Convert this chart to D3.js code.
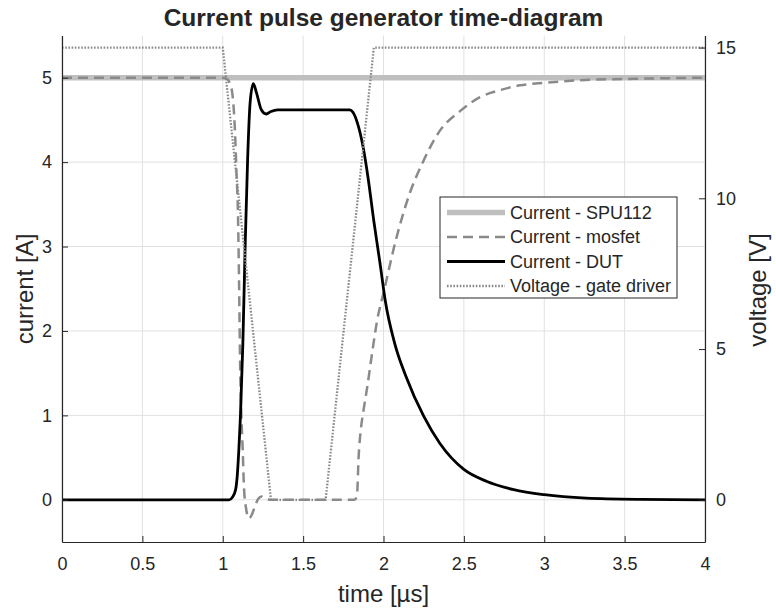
<!DOCTYPE html>
<html>
<head>
<meta charset="utf-8">
<script src="https://cdn.jsdelivr.net/npm/d3@7"></script>
<style>
body { margin: 0; background: #fff; }
svg text { font-family: "Liberation Sans", Arial, sans-serif; fill: #262626; }
</style>
</head>
<body>
<div id="chart"></div>
<script>
// data (time in µs)
var spuT = [0, 4];
var spuI = [5, 5];

var mosT = [0, 1.00, 1.03, 1.045, 1.055, 1.066, 1.076, 1.085, 1.095, 1.102, 1.108, 1.115, 1.124, 1.132, 1.145, 1.163, 1.18, 1.20, 1.22, 1.242, 1.265, 1.30,
            1.82, 1.835, 1.845, 1.86, 1.875, 1.90, 1.93, 1.96, 2.00, 2.08, 2.165, 2.24, 2.35, 2.48, 2.60, 2.72, 2.85, 3.01, 3.22, 3.64, 4.00];
var mosI = [5, 5, 4.98, 4.93, 4.87, 4.69, 4.37, 3.9, 3.35, 2.5, 1.6, 1.05, 0.6, 0.15, -0.1, -0.22, -0.18, -0.08, 0.01, 0.04, 0.01, 0,
            0, 0.05, 0.5, 0.85, 1.05, 1.35, 1.75, 2.12, 2.45, 3.1, 3.64, 3.98, 4.37, 4.61, 4.77, 4.85, 4.91, 4.94, 4.97, 4.99, 5.0];

var dutT = [0, 1.00, 1.04, 1.06, 1.08, 1.09, 1.10, 1.11, 1.125, 1.14, 1.155, 1.17, 1.19, 1.21, 1.24, 1.27, 1.30, 1.34, 1.50, 1.79,
            1.81, 1.835, 1.875, 1.905, 1.94, 1.98, 2.01, 2.07, 2.14, 2.25, 2.35, 2.50, 2.64, 2.81, 3.00, 3.26, 3.60, 4.00];
var dutI = [0, 0, 0, 0.03, 0.12, 0.28, 0.59, 0.99, 1.85, 3.05, 4.05, 4.7, 4.93, 4.82, 4.62, 4.57, 4.60, 4.62, 4.62, 4.62,
            4.59, 4.48, 4.16, 3.8, 3.3, 2.78, 2.37, 1.85, 1.46, 0.99, 0.67, 0.36, 0.22, 0.12, 0.06, 0.02, 0.005, 0];

var gateT = [0, 1.0, 1.3, 1.64, 1.94, 4.0];
var gateV = [15, 15, 0, 0, 15, 15];

var xTicks = [0, 0.5, 1, 1.5, 2, 2.5, 3, 3.5, 4];
var currentTicks = [0, 1, 2, 3, 4, 5];
var voltageTicks = [0, 5, 10, 15];

var legendLabels = ["Current - SPU112", "Current - mosfet", "Current - DUT", "Voltage - gate driver"];

var width = 776, height = 611;
// (pas "top" : window.top est en lecture seule)
var plotLeft = 62, plotRight = 705, plotTop = 35.5, plotBottom = 542;
var axisColor = "#262626";

var x = d3.scaleLinear().domain([0, 4]).range([plotLeft, plotRight]);
var yI = d3.scaleLinear().domain([-0.5, 5.5]).range([plotBottom, plotTop]);
var yV = d3.scaleLinear().domain([-1.4, 15.4]).range([plotBottom, plotTop]);

var svg = d3.select("#chart").append("svg")
    .attr("width", width)
    .attr("height", height);

svg.append("defs").append("clipPath").attr("id", "plotclip")
    .append("rect")
    .attr("x", plotLeft).attr("y", plotTop)
    .attr("width", plotRight - plotLeft).attr("height", plotBottom - plotTop);

// grid
var grid = svg.append("g");
grid.selectAll(".vg").data(xTicks).enter().append("line")
    .attr("x1", function(d) { return x(d); })
    .attr("x2", function(d) { return x(d); })
    .attr("y1", plotTop).attr("y2", plotBottom)
    .attr("stroke", "#e1e1e1").attr("stroke-width", 1);
grid.selectAll(".hg").data(currentTicks).enter().append("line")
    .attr("x1", plotLeft).attr("x2", plotRight)
    .attr("y1", function(d) { return yI(d); })
    .attr("y2", function(d) { return yI(d); })
    .attr("stroke", "#e1e1e1").attr("stroke-width", 1);

// series
var series = [
    {t: spuT, v: spuI, y: yI, color: "#bfbfbf", w: 5.5, dash: null, curve: d3.curveLinear},
    {t: mosT, v: mosI, y: yI, color: "#8a8a8a", w: 2.5, dash: "10,6", curve: d3.curveMonotoneX},
    {t: dutT, v: dutI, y: yI, color: "#000000", w: 2.8, dash: null, curve: d3.curveMonotoneX},
    {t: gateT, v: gateV, y: yV, color: "#8a8a8a", w: 2.3, dash: "1.6,1.6", curve: d3.curveLinear}
];

var plot = svg.append("g").attr("clip-path", "url(#plotclip)");
series.forEach(function(s) {
    var pts = s.t.map(function(t, i) { return [t, s.v[i]]; });
    var line = d3.line()
        .x(function(d) { return x(d[0]); })
        .y(function(d) { return s.y(d[1]); })
        .curve(s.curve);
    plot.append("path")
        .datum(pts)
        .attr("d", line)
        .attr("fill", "none")
        .attr("stroke", s.color)
        .attr("stroke-width", s.w)
        .attr("stroke-dasharray", s.dash);
});

// axes (ticks inside, matlab style)
var fmt = function(d) { return String(d); };
var xAxis = svg.append("g")
    .attr("transform", "translate(0," + plotBottom + ")")
    .call(d3.axisBottom(x).tickValues(xTicks).tickSizeInner(-6).tickSizeOuter(0).tickPadding(15).tickFormat(fmt));
var yAxisL = svg.append("g")
    .attr("transform", "translate(" + plotLeft + ",0)")
    .call(d3.axisLeft(yI).tickValues(currentTicks).tickSizeInner(-6).tickSizeOuter(0).tickPadding(10).tickFormat(fmt));
var yAxisR = svg.append("g")
    .attr("transform", "translate(" + plotRight + ",0)")
    .call(d3.axisRight(yV).tickValues(voltageTicks).tickSizeInner(-6).tickSizeOuter(0).tickPadding(11).tickFormat(fmt));

[xAxis, yAxisL, yAxisR].forEach(function(a) {
    a.select(".domain").attr("stroke", axisColor).attr("stroke-width", 1.2);
    a.selectAll(".tick line").attr("stroke", axisColor);
    a.selectAll(".tick text")
        .style("font-size", "18px")
        .style("font-family", "'Liberation Sans', Arial, sans-serif")
        .attr("fill", axisColor);
});

// labels
svg.append("text")
    .attr("x", (plotLeft + plotRight) / 2).attr("y", 26)
    .attr("text-anchor", "middle")
    .style("font-size", "24.5px").style("font-weight", "bold")
    .text("Current pulse generator time-diagram");

svg.append("text")
    .attr("x", (plotLeft + plotRight) / 2).attr("y", 602)
    .attr("text-anchor", "middle")
    .style("font-size", "24px")
    .text("time [µs]");

svg.append("text")
    .attr("transform", "translate(33,289) rotate(-90)")
    .attr("text-anchor", "middle")
    .style("font-size", "24px")
    .text("current [A]");

svg.append("text")
    .attr("transform", "translate(766,290) rotate(-90)")
    .attr("text-anchor", "middle")
    .style("font-size", "24px")
    .text("voltage [V]");

// legend
var legend = svg.append("g").attr("transform", "translate(440,197)");
legend.append("rect")
    .attr("width", 237).attr("height", 101)
    .attr("fill", "#fff")
    .attr("stroke", "#262626").attr("stroke-width", 1);

var rows = legend.selectAll(".row").data(series).enter().append("g")
    .attr("transform", function(d, i) { return "translate(0," + (15.5 + i * 24.5) + ")"; });
rows.append("line")
    .attr("x1", 7).attr("x2", 65)
    .attr("stroke", function(d) { return d.color; })
    .attr("stroke-width", function(d) { return d.w; })
    .attr("stroke-dasharray", function(d) { return d.dash; });
rows.append("text")
    .attr("x", 70).attr("dy", "0.35em")
    .style("font-size", "18px")
    .text(function(d, i) { return legendLabels[i]; });
</script>
</body>
</html>
